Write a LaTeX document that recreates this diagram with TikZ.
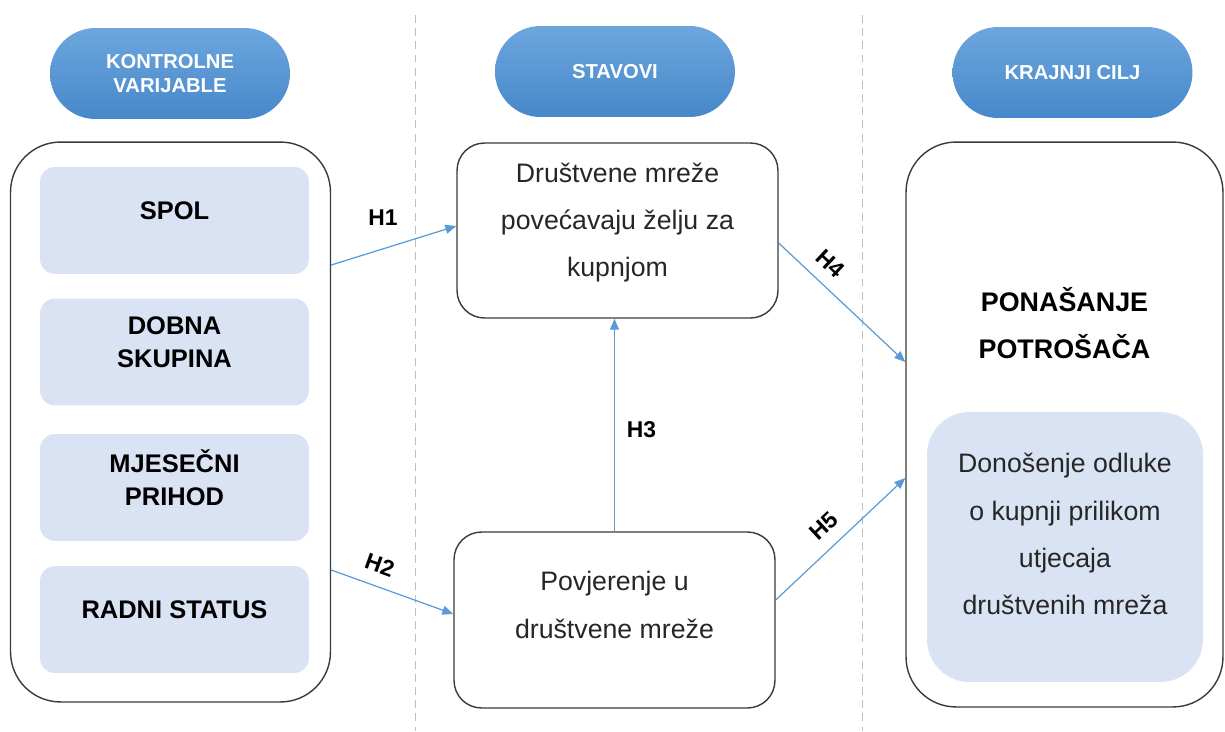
\documentclass[tikz,border=0pt]{standalone}
\usepackage{fontspec}
\setmainfont{Liberation Sans}
\usetikzlibrary{arrows.meta}

\definecolor{pilltop}{HTML}{6CA6DD}
\definecolor{pillbot}{HTML}{4788CA}
\definecolor{softblue}{HTML}{DAE3F3}
\definecolor{linkblue}{HTML}{5B9BD5}
\definecolor{framegray}{HTML}{3A3A3A}
\definecolor{splitgray}{HTML}{BFBFBF}

\begin{document}
\begin{tikzpicture}[x=0.02cm,y=-0.02cm,
  pill/.style={rounded corners=0.91cm,top color=pilltop,bottom color=pillbot,
    minimum width=4.8cm,minimum height=1.82cm,text=white,align=center,
    font=\fontsize{11.5}{14}\selectfont\bfseries},
  frame/.style={draw=framegray,line width=0.8pt,rounded corners=1cm,
    minimum width=6.4cm,minimum height=11.2cm},
  factor/.style={fill=softblue,rounded corners=0.3cm,minimum width=5.38cm,
    minimum height=2.14cm,align=center,text depth=0.4cm,
    font=\fontsize{14.5}{18.5}\selectfont\bfseries},
  claim/.style={draw=framegray,line width=0.8pt,rounded corners=0.55cm,
    minimum width=6.42cm,minimum height=3.5cm,align=center,text=black!85,
    font=\fontsize{15.2}{27}\selectfont},
  link/.style={-{Triangle[length=2.2mm,width=1.8mm]},linkblue,line width=0.7pt},
  hyp/.style={text=black,inner sep=1pt,font=\fontsize{13}{15}\selectfont\bfseries}]
  \useasboundingbox (0,0) rectangle (1225,731);

  % column splits
  \draw[splitgray,line width=0.6pt,dash pattern=on 4.5pt off 3pt] (415.5,15) -- (415.5,731);
  \draw[splitgray,line width=0.6pt,dash pattern=on 4.5pt off 3pt] (862.5,15) -- (862.5,731);

  % headers
  \node[pill] (hctrl) at (170,73.5) {KONTROLNE\\VARIJABLE};
  \node[pill] (hatt) at (615,71.5) {STAVOVI};
  \node[pill] (hgoal) at (1072.5,72.5) {KRAJNJI CILJ};

  % control variables
  \node[frame] (ctrl) at (170.5,422) {};
  \node[factor] (spol) at (174.5,220.5) {SPOL};
  \node[factor] (dob) at (174.5,352) {DOBNA\\SKUPINA};
  \node[factor] (prihod) at (174.5,487.5) {MJESEČNI\\PRIHOD};
  \node[factor] (status) at (174.5,619.5) {RADNI STATUS};

  % attitudes
  \node[claim,text depth=0.43cm] (att) at (617.5,230.5) {Društvene mreže\\povećavaju želju za\\kupnjom};
  \node[claim,minimum height=3.52cm,text depth=0.6cm] (trust) at (614.5,620) {Povjerenje u\\društvene mreže};

  % goal
  \node[frame,minimum width=6.34cm,minimum height=11.3cm] (goal) at (1064.5,424.5) {};
  \node[font=\fontsize{15.3}{27}\selectfont\bfseries,align=center] (behav) at (1064.5,323)
    {PONAŠANJE\\POTROŠAČA};
  \node[fill=softblue,rounded corners=0.85cm,minimum width=5.52cm,minimum height=5.4cm,
    align=center,text=black!85,text depth=0.52cm,font=\fontsize{15.2}{27}\selectfont]
    (decide) at (1065,547) {Donošenje odluke\\o kupnji prilikom\\utjecaja\\društvenih mreža};

  % hypotheses
  \draw[link] ([yshift=3.14cm]ctrl.east) -- ([yshift=0.09cm]att.west);
  \node[hyp] (h1) at (383,218) {H1};
  \draw[link] ([yshift=-2.96cm]ctrl.east) -- node[hyp,sloped,above=6pt,pos=0.34] (h2) {H2}
    ([yshift=0.12cm]trust.west);
  \draw[link] (trust.north) -- (trust.north |- att.south)
    node[hyp,right,pos=0.48,xshift=0.2cm] (h3) {H3};
  \draw[link] ([yshift=-0.25cm]att.east) -- node[hyp,sloped,above=6pt,pos=0.3] (h4) {H4}
    ([yshift=1.25cm]goal.west);
  \draw[link] ([yshift=0.4cm]trust.east) -- node[hyp,sloped,above=6pt,pos=0.48] (h5) {H5}
    ([yshift=-1.07cm]goal.west);
\end{tikzpicture}
\end{document}
